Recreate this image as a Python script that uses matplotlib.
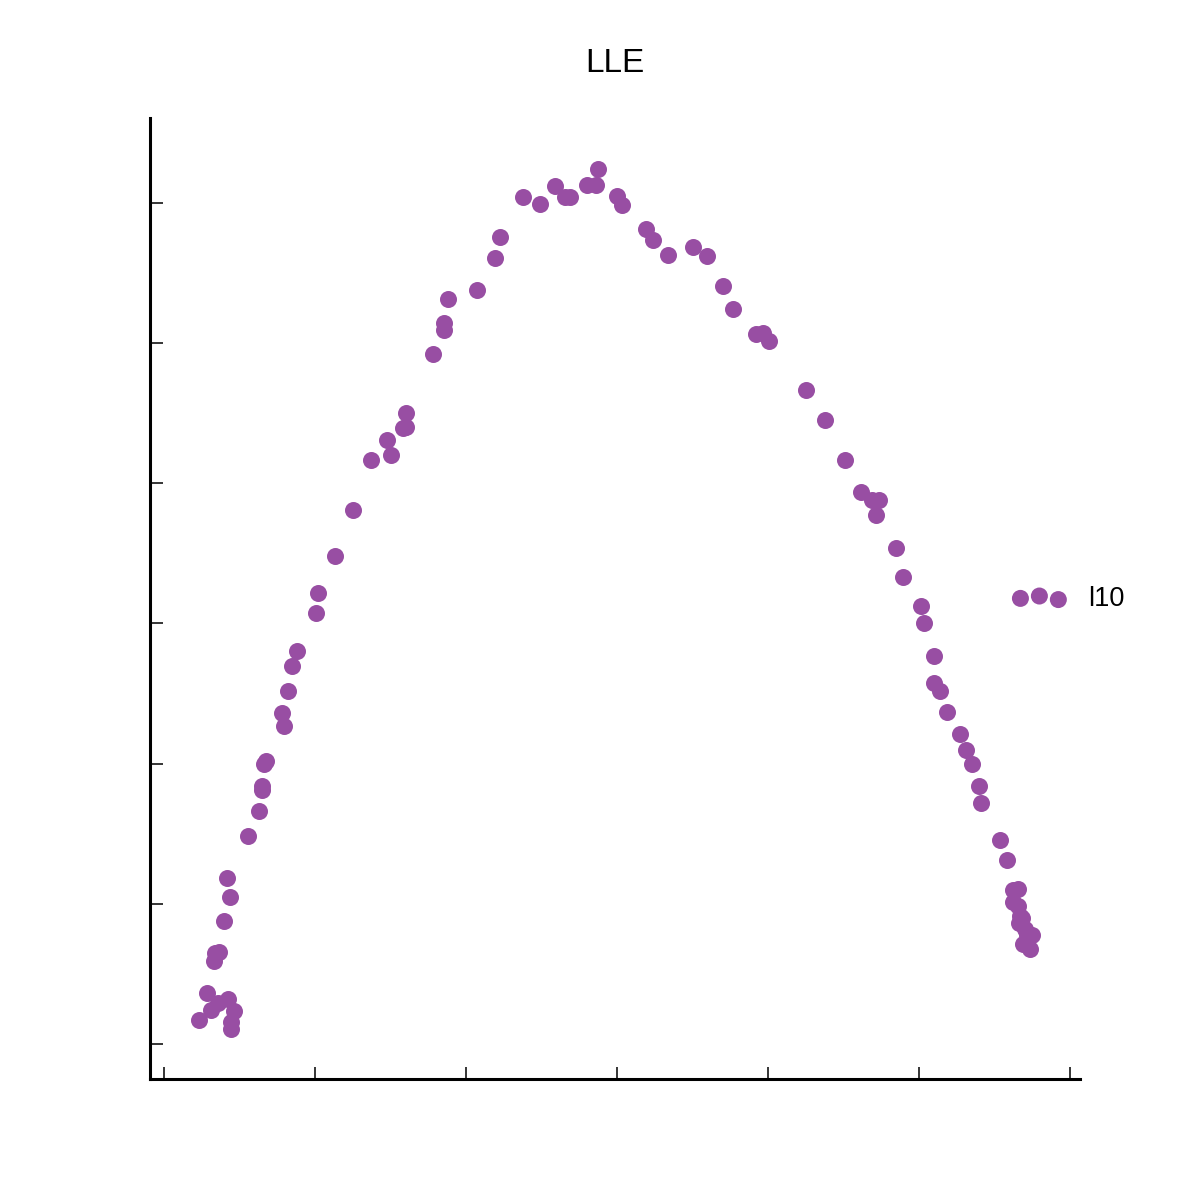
import numpy as np
import matplotlib.pyplot as plt

plt.rcParams['font.family'] = ['Liberation Sans', 'DejaVu Sans']

# puntos de la proyeccion LLE (serie l10)
x = [0.232, 0.285, 0.311, 0.358, 0.424, 0.464, 0.444, 0.444, 0.331, 0.338,
     0.364, 0.397, 0.437, 0.417, 0.556, 0.629, 0.649, 0.649, 0.662, 0.675,
     0.795, 0.781, 0.821, 0.848, 0.881, 1.007, 1.020, 1.132, 1.252, 1.371,
     1.503, 1.477, 1.583, 1.603, 1.603, 1.781, 1.854, 1.854, 1.881, 2.073,
     2.192, 2.225, 2.377, 2.490, 2.589, 2.656, 2.689, 2.801, 2.861, 2.874,
     3.000, 3.033, 3.192, 3.238, 3.338, 3.503, 3.596, 3.702, 3.768, 3.921,
     3.967, 4.007, 4.252, 4.377, 4.510, 4.616, 4.689, 4.735, 4.715, 4.848,
     4.894, 5.013, 5.033, 5.099, 5.099, 5.139, 5.185, 5.272, 5.311, 5.351,
     5.397, 5.411, 5.536, 5.583, 5.623, 5.656, 5.623, 5.656, 5.669, 5.682,
     5.662, 5.702, 5.715, 5.748, 5.689, 5.735]
y = [0.171, 0.364, 0.243, 0.292, 0.321, 0.235, 0.157, 0.107, 0.592, 0.649,
     0.656, 0.877, 1.049, 1.184, 1.484, 1.662, 1.812, 1.840, 1.997, 2.019,
     2.268, 2.361, 2.518, 2.696, 2.803, 3.074, 3.217, 3.481, 3.809, 4.165,
     4.201, 4.308, 4.394, 4.401, 4.501, 4.922, 5.093, 5.143, 5.314, 5.378,
     5.606, 5.756, 6.041, 5.991, 6.120, 6.041, 6.041, 6.127, 6.127, 6.241,
     6.049, 5.984, 5.813, 5.735, 5.628, 5.685, 5.621, 5.407, 5.243, 5.064,
     5.071, 5.014, 4.665, 4.451, 4.165, 3.937, 3.880, 3.880, 3.773, 3.538,
     3.331, 3.124, 3.003, 2.767, 2.575, 2.518, 2.368, 2.211, 2.097, 1.997,
     1.840, 1.719, 1.455, 1.312, 1.098, 1.106, 1.013, 0.984, 0.913, 0.899,
     0.863, 0.820, 0.777, 0.777, 0.713, 0.678]

fig = plt.figure(figsize=(12, 12), dpi=100)
ax = fig.add_axes([0.125, 0.1008, 0.775, 0.8009])
ax.scatter(x, y, s=150, color='#984ea3', linewidths=0, label='l10')

ax.set_xlim(-0.093, 6.066)
ax.set_ylim(-0.25, 6.605)
ax.set_xticks(np.arange(0, 7))
ax.set_yticks(np.arange(0, 7))
ax.set_xticklabels([])
ax.set_yticklabels([])
ax.tick_params(direction='in', length=9, width=1.1)

for lado in ['top', 'right']:
    ax.spines[lado].set_visible(False)
for lado in ['left', 'bottom']:
    ax.spines[lado].set_linewidth(2.2)

ax.set_title('LLE', fontsize=24, pad=33)
ax.legend(loc='center left', bbox_to_anchor=(0.901, 0.5), frameon=False,
          fontsize=19.5, scatterpoints=3)

plt.savefig('out.png')
